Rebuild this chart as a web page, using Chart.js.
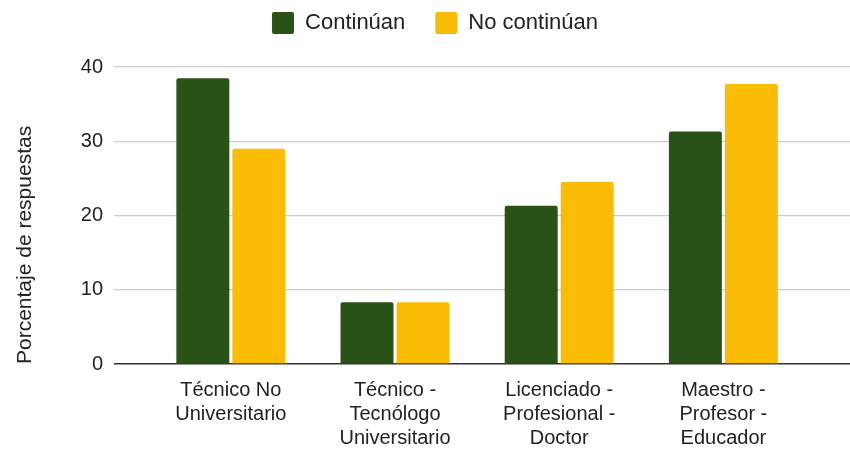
<!DOCTYPE html>
<html>
<head>
<meta charset="utf-8">
<script src="https://cdn.jsdelivr.net/npm/chart.js@4"></script>
<style>
  html, body { margin: 0; padding: 0; background: #fff; }
</style>
</head>
<body>
<canvas id="barChart" width="850" height="451"></canvas>
<script>
// niveles educativos (una línea por renglón de la etiqueta)
const categories = [
  ['Técnico No', 'Universitario'],
  ['Técnico -', 'Tecnólogo', 'Universitario'],
  ['Licenciado -', 'Profesional -', 'Doctor'],
  ['Maestro -', 'Profesor -', 'Educador']
];
const seriesNames = ['Continúan', 'No continúan'];
const continuan = [38.5, 8.3, 21.3, 31.3];
const noContinuan = [29.0, 8.3, 24.5, 37.7];
const yTicks = [0, 10, 20, 30, 40];

const green = '#2a5116';
const yellow = '#fabc05';
const textColor = '#222';
const fontFamily = '"Liberation Sans", Arial, sans-serif';

// deja espacio entre la leyenda y el área del gráfico
const legendMargin = {
  id: 'legendMargin',
  beforeInit(chart) {
    const fitLegend = chart.legend.fit;
    chart.legend.fit = function fit() {
      fitLegend.bind(chart.legend)();
      this.height += 23;
    };
  }
};

const toPoints = (values) => values.map((v, i) => ({ x: i, y: v }));

const ctx = document.getElementById('barChart').getContext('2d');
const myBarChart = new Chart(ctx, {
  type: 'bar',
  data: {
    datasets: [
      {
        label: seriesNames[0],
        data: toPoints(continuan),
        backgroundColor: green,
        borderRadius: 2,
        categoryPercentage: 0.682,
        barPercentage: 0.946
      },
      {
        label: seriesNames[1],
        data: toPoints(noContinuan),
        backgroundColor: yellow,
        borderRadius: 2,
        categoryPercentage: 0.682,
        barPercentage: 0.946
      }
    ]
  },
  options: {
    responsive: false,
    animation: false,
    layout: {
      padding: { left: 20, top: -18, right: 0, bottom: -13 }
    },
    plugins: {
      legend: {
        position: 'top',
        labels: {
          boxWidth: 22,
          boxHeight: 22,
          useBorderRadius: true,
          borderRadius: 2,
          padding: 30,
          color: textColor,
          font: { family: fontFamily, size: 22 }
        }
      },
      tooltip: { enabled: false }
    },
    scales: {
      x: {
        type: 'linear',
        offset: false,
        min: -0.7114,
        max: 3.7713,
        grid: { display: false, drawTicks: false },
        border: { display: false },
        afterBuildTicks: (scale) => {
          scale.ticks = categories.map((_, i) => ({ value: i }));
        },
        ticks: {
          autoSkip: false,
          maxRotation: 0,
          padding: 14,
          color: textColor,
          font: { family: fontFamily, size: 20, lineHeight: 1.2 },
          callback: (value) => categories[value]
        }
      },
      y: {
        min: yTicks[0],
        max: yTicks[yTicks.length - 1],
        border: { display: false },
        grid: {
          drawTicks: false,
          color: (c) => (c.tick.value === 0 ? '#333' : '#ccc'),
          lineWidth: (c) => (c.tick.value === 0 ? 1.5 : 1.2)
        },
        afterBuildTicks: (scale) => {
          scale.ticks = yTicks.map((v) => ({ value: v }));
        },
        ticks: {
          padding: 11,
          color: textColor,
          font: { family: fontFamily, size: 20 }
        },
        title: {
          display: true,
          text: 'Porcentaje de respuestas',
          align: 'start',
          color: textColor,
          font: { family: fontFamily, size: 21 },
          padding: { top: -7, bottom: 31.6 }
        }
      }
    }
  },
  plugins: [legendMargin]
});
</script>
</body>
</html>
